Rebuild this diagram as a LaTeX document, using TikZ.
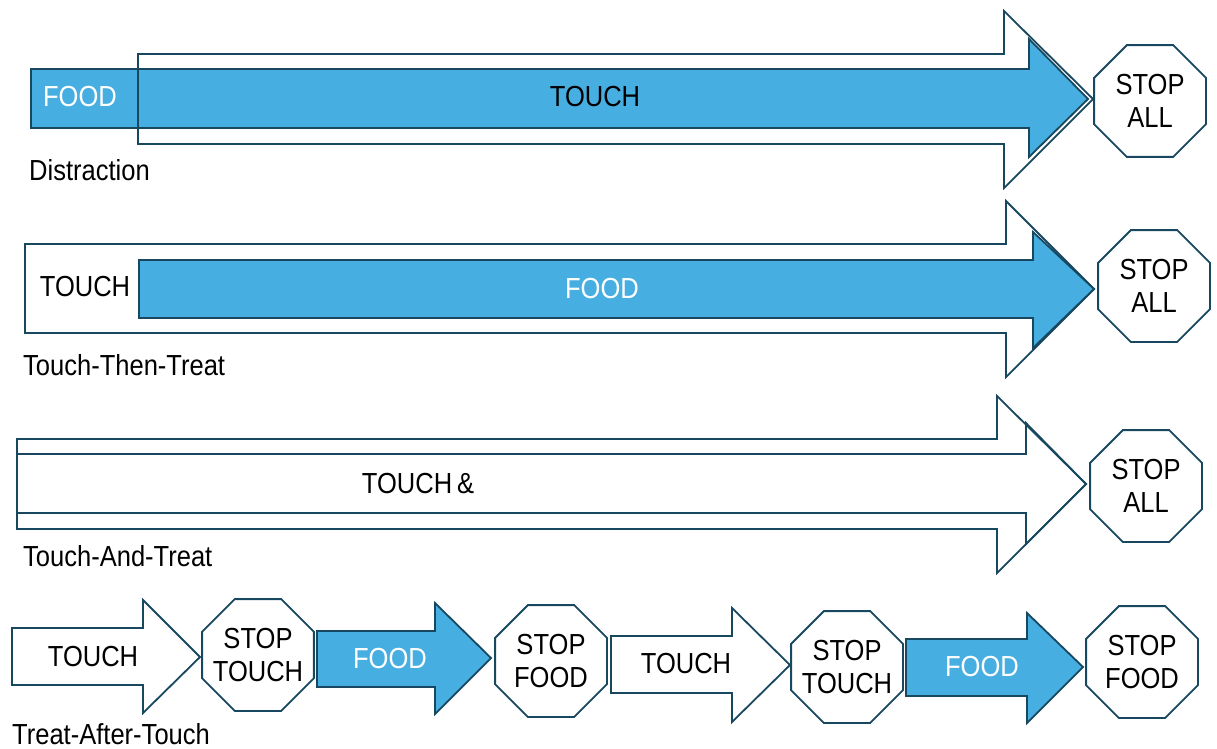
\documentclass[tikz,border=0pt]{standalone}
\usepackage{fontspec}
\setmainfont{Liberation Sans}[FakeStretch=0.88]
\usetikzlibrary{shapes.geometric}
\definecolor{arrowblue}{RGB}{70,174,224}
\definecolor{edgeblue}{RGB}{24,72,96}
\tikzset{
  outline/.style={draw=edgeblue, line width=1.8pt, line join=miter},
  bluearrow/.style={outline, fill=arrowblue},
  whitearrow/.style={outline, fill=white},
  hollowarrow/.style={outline},
  stopsign/.style={regular polygon, regular polygon sides=8, minimum size=121pt, inner sep=0pt,
    draw=edgeblue, line width=1.8pt, fill=white},
  lbl/.style={font=\fontsize{29}{33}\selectfont, inner sep=0pt, align=center},
  wlbl/.style={lbl, text=white},
  caption/.style={lbl, anchor=base west}
}
\begin{document}
\begin{tikzpicture}[x=1pt,y=-1pt]
\useasboundingbox (0,0) rectangle (1217,748);

% ---------- Row 1: Distraction ----------
\draw[bluearrow] (31,69) -- (1029,69) -- (1029,39) -- (1088,99) -- (1029,157) -- (1029,128) -- (31,128) -- cycle;
\draw[hollowarrow] (138,54) -- (1004,54) -- (1004,11) -- (1093,99) -- (1004,188) -- (1004,144) -- (138,144) -- cycle;
\node[wlbl] (r1food) at (80,97) {FOOD};
\node[lbl] (r1touch) at (595,97) {TOUCH};
\node[caption] (r1cap) at (29,180) {Distraction};
\node[stopsign] (r1stop) at (1150,101) {};
\node[lbl] (r1stoptxt) at (r1stop) {STOP\\ALL};

% ---------- Row 2: Touch-Then-Treat ----------
\draw[whitearrow] (25,244) -- (1006,244) -- (1006,201) -- (1094,289) -- (1006,377) -- (1006,333) -- (25,333) -- cycle;
\draw[bluearrow] (139,260) -- (1033,260) -- (1033,232) -- (1094,289) -- (1033,348) -- (1033,318) -- (139,318) -- cycle;
\node[lbl] (r2touch) at (85,287) {TOUCH};
\node[wlbl] (r2food) at (602,289) {FOOD};
\node[caption] (r2cap) at (23,375) {Touch-Then-Treat};
\node[stopsign] (r2stop) at (1154,286) {};
\node[lbl] (r2stoptxt) at (r2stop) {STOP\\ALL};

% ---------- Row 3: Touch-And-Treat ----------
\draw[whitearrow] (17,439) -- (997,439) -- (997,396) -- (1086,484) -- (997,573) -- (997,529) -- (17,529) -- cycle;
\draw[hollowarrow] (17,454) -- (1026,454) -- (1026,423) -- (1086,484) -- (1026,544) -- (1026,513) -- (17,513) -- cycle;
\node[lbl] (r3touch) at (418,484) {TOUCH\,\&};
\node[caption] (r3cap) at (23,566) {Touch-And-Treat};
\node[stopsign] (r3stop) at (1146,486) {};
\node[lbl] (r3stoptxt) at (r3stop) {STOP\\ALL};

% ---------- Row 4: Treat-After-Touch ----------
\draw[whitearrow] (12,628) -- (143,628) -- (143,600) -- (200,657) -- (143,713) -- (143,685) -- (12,685) -- cycle;
\node[lbl] (r4t1) at (93,657) {TOUCH};
\node[stopsign] (r4s1) at (258,655) {};
\node[lbl] (r4s1txt) at (r4s1) {STOP\\TOUCH};

\draw[bluearrow] (317,631) -- (435,631) -- (435,603) -- (491,658) -- (435,714) -- (435,687) -- (317,687) -- cycle;
\node[wlbl] (r4f1) at (390,659) {FOOD};
\node[stopsign] (r4s2) at (551,661) {};
\node[lbl] (r4s2txt) at (r4s2) {STOP\\FOOD};

\draw[whitearrow] (611,636) -- (732,636) -- (732,608) -- (790,665) -- (732,722) -- (732,693) -- (611,693) -- cycle;
\node[lbl] (r4t2) at (686,664) {TOUCH};
\node[stopsign] (r4s3) at (847,667) {};
\node[lbl] (r4s3txt) at (r4s3) {STOP\\TOUCH};

\draw[bluearrow] (906,639) -- (1027,639) -- (1027,613) -- (1083,667) -- (1027,723) -- (1027,696) -- (906,696) -- cycle;
\node[wlbl] (r4f2) at (982,667) {FOOD};
\node[stopsign] (r4s4) at (1142,662) {};
\node[lbl] (r4s4txt) at (r4s4) {STOP\\FOOD};

\node[caption] (r4cap) at (12,744) {Treat-After-Touch};
\end{tikzpicture}
\end{document}
